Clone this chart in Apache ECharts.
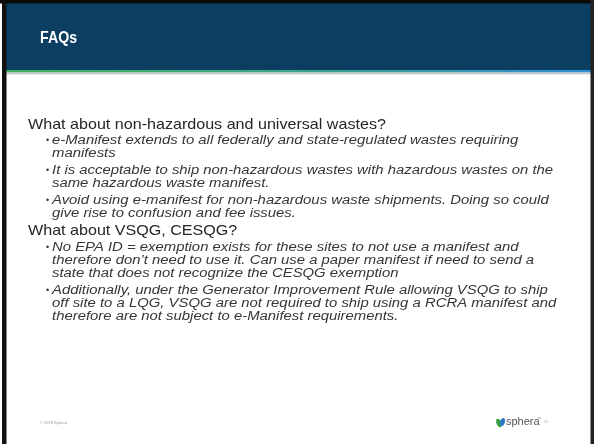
<!DOCTYPE html>
<html><head><meta charset="utf-8">
<script src="https://cdn.jsdelivr.net/npm/echarts@6/dist/echarts.min.js"></script>
<style>html,body{margin:0;padding:0;background:#fff}#c{width:594px;height:444px}</style>
</head><body><div id="c"></div>
<script>
const title = "FAQs";
const headings = ["What about non-hazardous and universal wastes?", "What about VSQG, CESQG?"];
const bullets1 = [
  ["e-Manifest extends to all federally and state-regulated wastes requiring", "manifests"],
  ["It is acceptable to ship non-hazardous wastes with hazardous wastes on the", "same hazardous waste manifest."],
  ["Avoid using e-manifest for non-hazardous waste shipments. Doing so could", "give rise to confusion and fee issues."]
];
const bullets2 = [
  ["No EPA ID = exemption exists for these sites to not use a manifest and", "therefore don\u2019t need to use it. Can use a paper manifest if need to send a", "state that does not recognize the CESQG exemption"],
  ["Additionally, under the Generator Improvement Rule allowing VSQG to ship", "off site to a LQG, VSQG are not required to ship using a RCRA manifest and", "therefore are not subject to e-Manifest requirements."]
];
const footerText = "\u00a9 2018 Sphera";
const brand = "sphera";
const pageNo = "31";

const chart = echarts.init(document.getElementById('c'), null, {renderer: 'canvas'});
const FONT = '"Liberation Sans", Arial, sans-serif';
const g = [];
// frame
g.push({type:'rect', shape:{x:0,y:0,width:594,height:444}, style:{fill:'#fff'}});
g.push({type:'rect', shape:{x:4,y:3,width:587,height:68}, style:{fill:'#0c3e62'}});
g.push({type:'rect', shape:{x:4,y:70,width:587,height:2.5}, style:{fill:new echarts.graphic.LinearGradient(0,0,1,0,[{offset:0,color:'#3fae5a'},{offset:0.5,color:'#3aa58a'},{offset:1,color:'#2f8fd6'}])}});
g.push({type:'rect', shape:{x:4,y:72.5,width:587,height:1.8}, style:{fill:'#c4c4c4'}});
g.push({type:'rect', shape:{x:0,y:0,width:594,height:3.5}, style:{fill:'#0a0a0a'}});
g.push({type:'rect', shape:{x:2,y:0,width:4.5,height:444}, style:{fill:'#111'}});
g.push({type:'rect', shape:{x:590.5,y:0,width:3.5,height:444}, style:{fill:'#222'}});
// title
g.push({type:'text', x:40, y:38, scaleX:0.86, style:{text:title, fill:'#fff', font:'bold 16.5px '+FONT, verticalAlign:'middle'}});

let y = 125;
function heading(t){ g.push({type:'text', x:28, y:y, scaleX:1.11, style:{text:t, fill:'#262626', font:'14.5px '+FONT, verticalAlign:'middle'}}); }
function bullet(lines){
  g.push({type:'text', x:46, y:y, style:{text:'\u2022', fill:'#333', font:'9px '+FONT, verticalAlign:'middle'}});
  lines.forEach((l,i)=>{
    g.push({type:'text', x:52, y:y+i*13, scaleX:1.19, style:{text:l, fill:'#363636', font:'italic 12.5px '+FONT, verticalAlign:'middle'}});
  });
}
heading(headings[0]); y = 141;
bullets1.forEach(b=>{ bullet(b); y += b.length*13 + 4; });
y = 231; heading(headings[1]); y = 248;
bullets2.forEach(b=>{ bullet(b); y += b.length*13 + 4; });

// footer
g.push({type:'text', x:40, y:423, style:{text:footerText, fill:'#999', font:'4px '+FONT, verticalAlign:'middle'}});
g.push({type:'ellipse', shape:{cx:499,cy:423,rx:2.6,ry:4.5}, rotation:0.4, originX:499, originY:423, style:{fill:'#3aa24a'}});
g.push({type:'ellipse', shape:{cx:502.5,cy:422,rx:2.4,ry:4.2}, rotation:-0.3, originX:502.5, originY:422, style:{fill:'#2b78c2'}});
g.push({type:'text', x:506, y:422, style:{text:brand, fill:'#555', font:'11px '+FONT, verticalAlign:'middle'}});
g.push({type:'text', x:537, y:419, style:{text:'\u2122', fill:'#777', font:'4px '+FONT, verticalAlign:'middle'}});
g.push({type:'text', x:544, y:422, style:{text:pageNo, fill:'#aaa', font:'4px '+FONT, verticalAlign:'middle'}});

chart.setOption({animation:false, graphic:{elements:g}});
</script></body></html>
